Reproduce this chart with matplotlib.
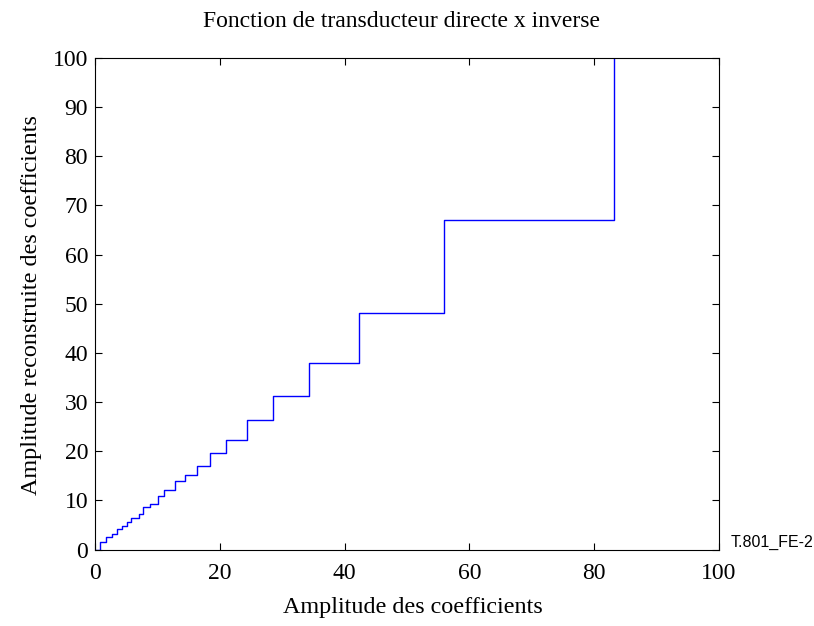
#!/usr/bin/env python

import matplotlib
matplotlib.use('Agg')
import matplotlib.pyplot as plt

# quantizer staircase: input thresholds and reconstructed levels
AMP_IN = [0, 0.88, 1.79, 2.70, 3.50, 4.35, 5.15, 5.79, 7.00, 7.74, 8.89, 10.17, 11.13,
          12.78, 14.38, 16.36, 18.49, 21.0, 24.37, 28.58, 34.35, 42.35, 55.86, 83.24]
AMP_OUT = [0, 1.6, 2.45, 3.25, 4.07, 4.88, 5.65, 6.37, 7.28, 8.55, 9.35, 10.94, 12.2,
           13.92, 15.14, 17.04, 19.55, 22.32, 26.3, 31.2, 38.04, 48.2, 66.97, 100]

X_TICKS = [0, 20, 40, 60, 80, 100]
Y_TICKS = [0, 10, 20, 30, 40, 50, 60, 70, 80, 90, 100]

SERIF = 'Liberation Serif'

fig = plt.figure(figsize=(8.14, 6.26), dpi=100)
ax = fig.add_axes([95 / 814, 1 - 549.5 / 626, 624 / 814, 491.5 / 626])

ax.step(AMP_IN, AMP_OUT, where='post', color='#0000ff', linewidth=1.0)

ax.set_xlim(0, 100)
ax.set_ylim(0, 100)
ax.set_xticks(X_TICKS)
ax.set_yticks(Y_TICKS)
ax.tick_params(direction='in', top=True, right=True, length=5, width=0.8,
               labelsize=17)
ax.tick_params(axis='x', pad=10)
ax.tick_params(axis='y', pad=5)
for lbl in ax.get_xticklabels() + ax.get_yticklabels():
    lbl.set_family(SERIF)
for sp in ax.spines.values():
    sp.set_linewidth(0.8)

fig.text(0.493, 0.966, 'Fonction de transducteur directe x inverse',
         ha='center', va='center', fontsize=17, family=SERIF)
fig.text(0.507, 0.029, 'Amplitude des coefficients',
         ha='center', va='center', fontsize=17.4, family=SERIF)
fig.text(0.039, 0.512, 'Amplitude reconstruite des coefficients',
         ha='center', va='center', rotation=90, fontsize=17.4, family=SERIF)
fig.text(0.897, 0.133, 'T.801_FE-2', ha='left', va='center', fontsize=11.5,
         family='Liberation Sans')

plt.savefig('out.png', dpi=100)
